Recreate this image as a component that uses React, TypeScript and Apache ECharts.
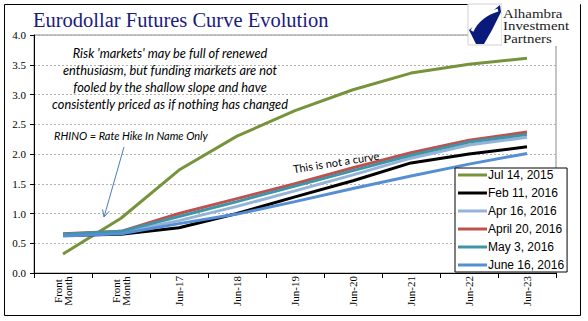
import React, { useEffect, useRef } from "react";
import * as echarts from "echarts";

const categories = ["Front\nMonth", "Front\nMonth", "Jun-17", "Jun-18", "Jun-19", "Jun-20", "Jun-21", "Jun-22", "Jun-23"];
const seriesNames = ["Jul 14, 2015", "Feb 11, 2016", "Apr 16, 2016", "April 20, 2016", "May 3, 2016", "June 16, 2016"];
const jul14_2015 = [0.32, 0.92, 1.73, 2.3, 2.73, 3.08, 3.36, 3.51, 3.61];
const feb11_2016 = [0.63, 0.65, 0.76, 1.0, 1.28, 1.55, 1.85, 2.0, 2.12];
const apr16_2016 = [0.64, 0.68, 0.88, 1.12, 1.38, 1.65, 1.93, 2.15, 2.28];
const apr20_2016 = [0.66, 0.7, 1.0, 1.25, 1.5, 1.77, 2.02, 2.23, 2.37];
const may3_2016 = [0.65, 0.7, 0.95, 1.2, 1.46, 1.72, 1.98, 2.2, 2.33];
const jun16_2016 = [0.62, 0.66, 0.83, 0.99, 1.2, 1.42, 1.63, 1.83, 2.01];
const seriesColors = ["#77933c", "#000000", "#95b3d7", "#c0504d", "#3f95a8", "#558ed5"];
const yTicks = { min: 0, max: 4, interval: 0.5 };

const titleText = "Eurodollar Futures Curve Evolution";
const noteLines = [
  "Risk 'markets' may be full of renewed",
  "enthusiasm, but funding markets are not",
  "fooled by the shallow slope and have",
  "consistently priced as if nothing has changed",
];
const rhinoText = "RHINO = Rate Hike In Name Only";
const curveText = "This is not a curve";
const logoLines = ["Alhambra", "Investment", "Partners"];

export default function App() {
  const ref = useRef<HTMLDivElement>(null);
  useEffect(() => {
    if (!ref.current) return;
    const chart = echarts.init(ref.current, undefined, { renderer: "svg" });
    const allData = [jul14_2015, feb11_2016, apr16_2016, apr20_2016, may3_2016, jun16_2016];

    // arrow geometry
    const ax0 = 124, ay0 = 147, ax1 = 104, ay1 = 217;
    const dx = ax1 - ax0, dy = ay1 - ay0;
    const len = Math.sqrt(dx * dx + dy * dy);
    const ux = dx / len, uy = dy / len;
    const px = -uy, py = ux;
    const hl = 7, hw = 3.5;
    const bx = ax1 - ux * hl, by = ay1 - uy * hl;

    const graphics: any[] = [
      {
        type: "rect",
        shape: { x: 4.5, y: 4.5, width: 576, height: 311 },
        style: { fill: "none", stroke: "#000", lineWidth: 1 },
        z: 1,
        silent: true,
      },
      {
        type: "text",
        x: 33,
        y: 20,
        style: {
          text: titleText,
          font: "20.5px 'Liberation Serif'",
          fill: "#1a1a80",
          textVerticalAlign: "middle",
        },
        z: 10,
      },
      // logo
      {
        type: "rect",
        shape: { x: 468, y: 4, width: 34, height: 41 },
        style: { fill: "#fff", stroke: "#d0d0d0", lineWidth: 1 },
        z: 20,
      },
      {
        type: "polygon",
        shape: { points: [[469, 30], [500, 5], [501, 12], [492, 30], [484, 44], [476, 44]] },
        style: { fill: "#0a1a7a" },
        z: 21,
      },
      {
        type: "bezierCurve",
        shape: { x1: 472, y1: 31, x2: 498, y2: 10, cpx1: 478, cpy1: 18, cpx2: 488, cpy2: 13 },
        style: { stroke: "#fff", lineWidth: 3, fill: "none" },
        z: 22,
      },
      {
        type: "rect",
        shape: { x: 502, y: 4, width: 78, height: 42 },
        style: { fill: "#fff" },
        z: 20,
      },
      ...logoLines.map((t, i) => ({
        type: "text",
        x: 503,
        y: 13.8 + i * 12.5,
        scaleX: 1.2,
        style: {
          text: t,
          font: "12.4px 'Liberation Serif'",
          fill: "#1a1a1a",
          textVerticalAlign: "middle",
        },
        z: 23,
      })),
      // note
      ...noteLines.map((t, i) => ({
        type: "text",
        x: 170,
        y: 53 + i * 17,
        style: {
          text: t,
          font: "italic 12.8px Lato",
          fill: "#000",
          textAlign: "center",
          textVerticalAlign: "middle",
        },
        z: 10,
      })),
      {
        type: "text",
        x: 54,
        y: 135,
        style: {
          text: rhinoText,
          font: "italic 11px Lato",
          fill: "#000",
          textVerticalAlign: "middle",
        },
        z: 10,
      },
      {
        type: "text",
        x: 336,
        y: 162,
        rotation: (9 * Math.PI) / 180,
        style: {
          text: curveText,
          font: "11px Lato",
          fill: "#000",
          textAlign: "center",
          textVerticalAlign: "middle",
        },
        z: 10,
      },
      {
        type: "line",
        shape: { x1: ax0, y1: ay0, x2: ax1, y2: ay1 },
        style: { stroke: "#4a7ebb", lineWidth: 1 },
        z: 10,
      },
      {
        type: "polyline",
        shape: {
          points: [
            [bx + px * hw, by + py * hw],
            [ax1, ay1],
            [bx - px * hw, by - py * hw],
          ],
        },
        style: { stroke: "#4a7ebb", lineWidth: 1, fill: "none" },
        z: 10,
      },
    ];

    chart.setOption({
      animation: false,
      backgroundColor: "#fff",
      grid: {
        left: 34,
        top: 35,
        right: 32,
        bottom: 48,
        show: true,
        borderColor: "#8a8a8a",
        borderWidth: 1,
        backgroundColor: "transparent",
      },
      legend: {
        orient: "vertical",
        left: 455,
        top: 168,
        icon: "rect",
        itemWidth: 29,
        itemHeight: 3,
        itemGap: 6,
        padding: [1, 3, 1, 3],
        borderColor: "#000",
        borderWidth: 1,
        backgroundColor: "#fff",
        textStyle: { fontFamily: "'Liberation Sans'", fontSize: 12, color: "#000", padding: [0, 0, 0, -4] },
        data: seriesNames,
        z: 30,
      },
      xAxis: {
        type: "category",
        data: categories,
        boundaryGap: true,
        axisLine: { lineStyle: { color: "#000", width: 1 } },
        axisTick: { show: true, length: 5, lineStyle: { color: "#000" }, alignWithLabel: false, interval: 0 },
        axisLabel: {
          interval: 0,
          rotate: 90,
          align: "center",
          margin: 18,
          fontFamily: "'Liberation Serif'",
          fontSize: 11,
          lineHeight: 10,
          color: "#000",
        },
        splitLine: { show: false },
      },
      yAxis: {
        type: "value",
        min: yTicks.min,
        max: yTicks.max,
        interval: yTicks.interval,
        axisLine: { show: true, lineStyle: { color: "#000", width: 1 } },
        axisTick: { show: true, length: 4, lineStyle: { color: "#000" } },
        axisLabel: {
          margin: 8,
          fontFamily: "'Liberation Serif'",
          fontSize: 11,
          color: "#000",
          formatter: (v: number) => v.toFixed(1),
        },
        splitLine: { show: true, lineStyle: { color: "#b0b0b0", type: [2, 2], width: 1 } },
      },
      series: seriesNames.map((name, i) => ({
        name,
        type: "line",
        data: allData[i],
        symbol: "none",
        color: seriesColors[i],
        lineStyle: { width: 3, color: seriesColors[i] },
        z: 2 + i * 0.01,
      })),
      graphic: graphics,
    });
    return () => chart.dispose();
  }, []);
  return <div ref={ref} style={{ position: "fixed", left: 0, top: 0, width: 588, height: 321 }} />;
}
